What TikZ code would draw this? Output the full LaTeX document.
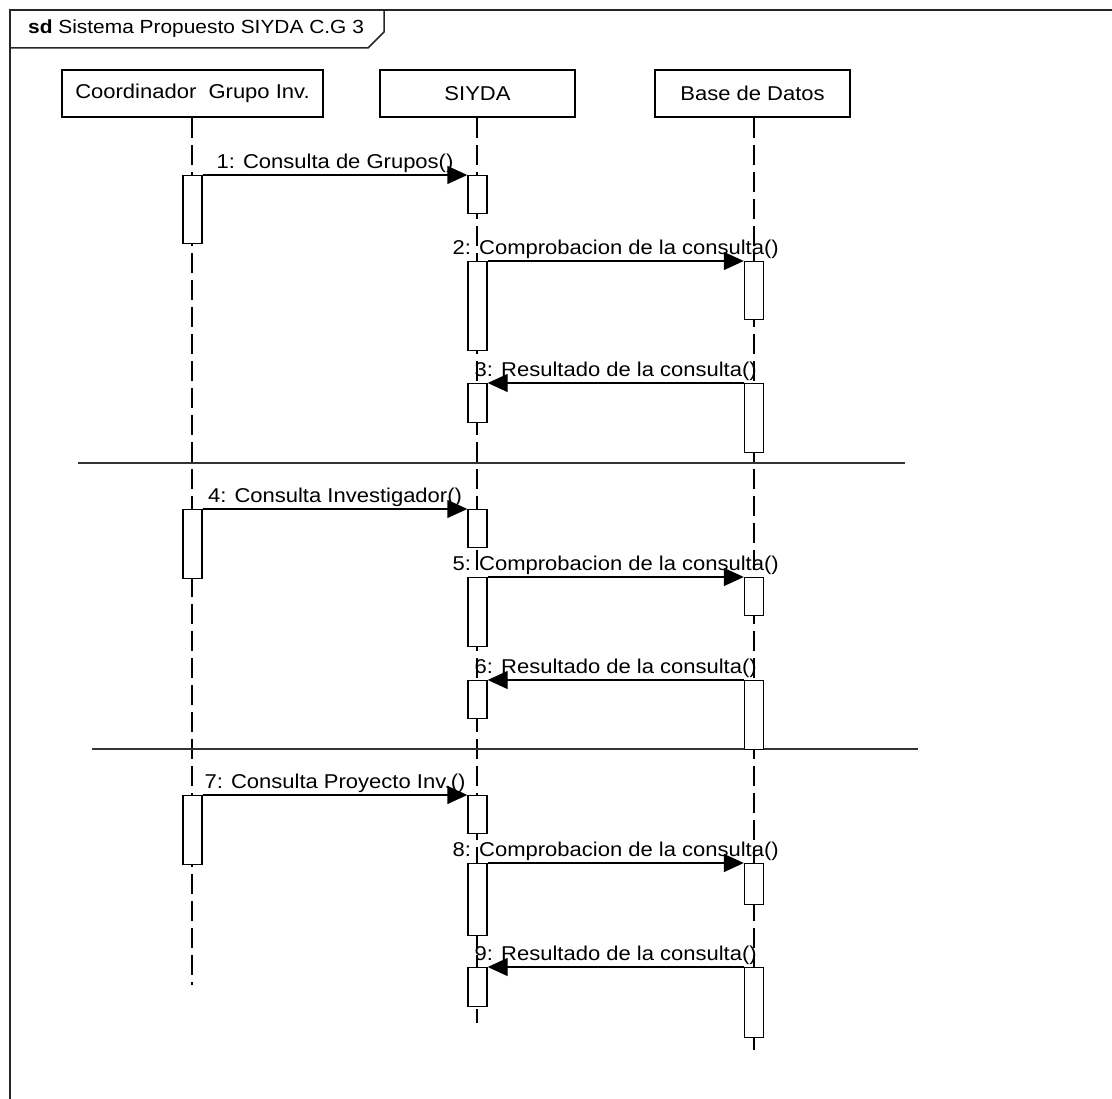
\documentclass[tikz,border=0pt]{standalone}
\usepackage{fontspec}
\setmainfont[FakeStretch=1.1]{Liberation Sans}
\usepackage{tikz}
\usetikzlibrary{arrows.meta, positioning}
\tikzset{
    head/.style={rectangle, draw, line width=2.2pt, fill=white, align=center, minimum width=195pt, minimum height=47pt, inner sep=0pt},
    act/.style={rectangle, draw, line width=1.4pt, fill=white, minimum width=19pt, inner sep=0pt, anchor=north},
    msg/.style={line width=1.4pt, -{Triangle[length=20pt, width=18pt]}},
    lifeline/.style={line width=1.1pt, dash pattern=on 20pt off 7pt},
    frame/.style={line width=1.5pt, black!85},
    sep/.style={line width=1.6pt, black!80},
    lbl/.style={above, inner sep=2pt}
}

\begin{document}
\begin{tikzpicture}[x=1pt, y=-1pt, font=\fontsize{20}{23}\selectfont]
    \useasboundingbox (0,0) rectangle (1112,1099);

    % frame and title tab
    \draw[frame] (10,1099) -- (10,10) -- (1112,10);
    \draw[frame] (10,48) -- (368,48) -- (384,32) -- (384,10);
    \node[anchor=west, inner sep=0pt, font=\fontsize{19}{22}\selectfont] (title) at (28,29) {\textbf{sd} Sistema Propuesto SIYDA C.G 3};

    % lifeline heads
    \node[head, minimum width=261pt] (coord) at (192.5,93.5) {Coordinador\ \ Grupo Inv.};
    \node[head] (siyda) at (477.5,93.5) {SIYDA};
    \node[head] (bd) at (752.5,93.5) {Base de Datos};

    \coordinate (coordEnd) at (192,985);
    \coordinate (siydaEnd) at (477,1023);
    \coordinate (bdEnd) at (754,1050);

    \draw[lifeline] (coord.south -| coordEnd) -- (coordEnd);
    \draw[lifeline] (siyda.south -| siydaEnd) -- (siydaEnd);
    \draw[lifeline] (bd.south -| bdEnd) -- (bdEnd);

    % separators
    \draw[sep] (78,463) -- (905,463);
    \draw[sep] (92,749) -- (918,749);

    % activations
    \node[act, minimum height=68pt] (c1) at (192.5,175) {};
    \node[act, minimum height=69pt] (c4) at (192.5,509) {};
    \node[act, minimum height=69pt] (c7) at (192.5,795) {};

    \node[act, minimum height=38pt] (s1) at (477.5,175) {};
    \node[act, minimum height=89pt] (s2) at (477.5,261) {};
    \node[act, minimum height=39pt] (s3) at (477.5,383) {};
    \node[act, minimum height=38pt] (s4) at (477.5,509) {};
    \node[act, minimum height=69pt] (s5) at (477.5,577) {};
    \node[act, minimum height=38pt] (s6) at (477.5,680) {};
    \node[act, minimum height=38pt] (s7) at (477.5,795) {};
    \node[act, minimum height=72pt] (s8) at (477.5,863) {};
    \node[act, minimum height=39pt] (s9) at (477.5,967) {};

    \node[act, minimum height=58pt] (d2) at (754,261) {};
    \node[act, minimum height=69pt] (d3) at (754,383) {};
    \node[act, minimum height=38pt] (d5) at (754,577) {};
    \node[act, minimum height=69pt] (d6) at (754,680) {};
    \node[act, minimum height=41pt] (d8) at (754,863) {};
    \node[act, minimum height=70pt] (d9) at (754,967) {};

    % messages
    \draw[msg] (c1.north east) -- node[lbl] {1: Consulta de Grupos()} (s1.north west);
    \draw[msg] (s2.north east) -- node[lbl] {2: Comprobacion de la consulta()} (d2.north west);
    \draw[msg] (d3.north west) -- node[lbl] {3: Resultado de la consulta()} (s3.north east);
    \draw[msg] (c4.north east) -- node[lbl] {4: Consulta Investigador()} (s4.north west);
    \draw[msg] (s5.north east) -- node[lbl] {5: Comprobacion de la consulta()} (d5.north west);
    \draw[msg] (d6.north west) -- node[lbl] {6: Resultado de la consulta()} (s6.north east);
    \draw[msg] (c7.north east) -- node[lbl] {7: Consulta Proyecto Inv.()} (s7.north west);
    \draw[msg] (s8.north east) -- node[lbl] {8: Comprobacion de la consulta()} (d8.north west);
    \draw[msg] (d9.north west) -- node[lbl] {9: Resultado de la consulta()} (s9.north east);
\end{tikzpicture}
\end{document}
